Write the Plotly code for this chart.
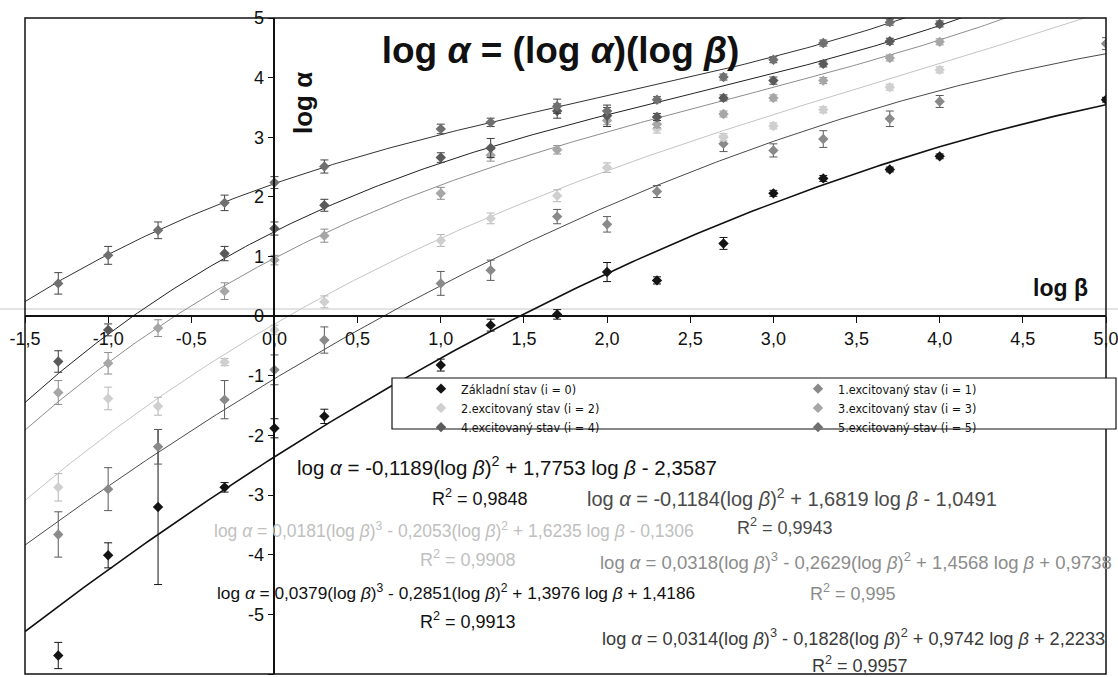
import numpy as np
import plotly.graph_objects as go

# ---------------- data ----------------
LOG_BETA = [-1.3, -1.0, -0.7, -0.3, 0.0, 0.3, 1.0, 1.3, 1.7, 2.0, 2.3, 2.7, 3.0, 3.3, 3.7, 4.0, 5.0]

SERIES_NAMES = [
    "Základní stav (i = 0)",
    "1.excitovaný stav (i = 1)",
    "2.excitovaný stav (i = 2)",
    "3.excitovaný stav (i = 3)",
    "4.excitovaný stav (i = 4)",
    "5.excitovaný stav (i = 5)",
]

Y0 = [-5.69, -4.01, -3.20, -2.87, -1.88, -1.68, -0.82, -0.15, 0.03, 0.74, 0.60, 1.22, 2.06, 2.31, 2.46, 2.68, 3.63]
E0 = [0.22, 0.21, 1.30, 0.08, 0.16, 0.12, 0.10, 0.10, 0.08, 0.16, 0.06, 0.10, 0.05, 0.05, 0.04, 0.04, 0.04]

Y1 = [-3.66, -2.90, -2.19, -1.40, -0.90, -0.40, 0.55, 0.77, 1.67, 1.54, 2.09, 2.89, 2.78, 2.97, 3.31, 3.60, 4.57]
E1 = [0.38, 0.36, 0.29, 0.32, 0.25, 0.22, 0.20, 0.17, 0.12, 0.13, 0.10, 0.13, 0.11, 0.14, 0.13, 0.10, 0.10]

Y2 = [-2.87, -1.38, -1.51, -0.77, -0.23, 0.24, 1.27, 1.64, 2.02, 2.49, 3.14, 3.00, 3.19, 3.46, 3.84, 4.13, None]
E2 = [0.23, 0.19, 0.15, 0.06, 0.08, 0.10, 0.10, 0.09, 0.10, 0.08, 0.07, 0.06, 0.05, 0.05, 0.05, 0.05, None]

Y3 = [-1.28, -0.79, -0.20, 0.42, 0.94, 1.35, 2.06, 2.70, 2.79, 3.28, 3.22, 3.39, 3.66, 3.95, 4.33, 4.60, None]
E3 = [0.20, 0.18, 0.14, 0.14, 0.08, 0.11, 0.10, 0.10, 0.07, 0.07, 0.06, 0.05, 0.05, 0.05, 0.05, 0.05, None]

Y4 = [-0.76, -0.23, None, 1.05, 1.47, 1.86, 2.66, 2.82, 3.44, 3.36, 3.34, 3.66, 3.95, 4.23, 4.61, 4.90, None]
E4 = [0.18, 0.10, None, 0.12, 0.11, 0.10, 0.08, 0.16, 0.12, 0.18, 0.06, 0.05, 0.06, 0.05, 0.05, 0.05, None]

Y5 = [0.55, 1.02, 1.44, 1.90, 2.24, 2.51, 3.14, 3.25, 3.52, 3.44, 3.63, 4.01, 4.30, 4.58, 4.93, None, None]
E5 = [0.18, 0.15, 0.14, 0.13, 0.10, 0.11, 0.08, 0.07, 0.12, 0.06, 0.05, 0.05, 0.05, 0.05, 0.05, None, None]

# trendline coefficients as printed on the chart (cubic, square, linear, constant)
COEF0 = [0.0, -0.1189, 1.7753, -2.3587]
COEF1 = [0.0, -0.1184, 1.6819, -1.0491]
COEF2 = [0.0181, -0.2053, 1.6235, -0.1306]
COEF3 = [0.0318, -0.2629, 1.4568, 0.9738]
COEF4 = [0.0379, -0.2851, 1.3976, 1.4186]
COEF5 = [0.0314, -0.1828, 0.9742, 2.2233]

EQ0 = "log <i>α</i> = -0,1189(log <i>β</i>)<sup>2</sup> + 1,7753 log <i>β</i> - 2,3587"
EQ1 = "log <i>α</i> = -0,1184(log <i>β</i>)<sup>2</sup> + 1,6819 log <i>β</i> - 1,0491"
EQ2 = "log <i>α</i> = 0,0181(log <i>β</i>)<sup>3</sup> - 0,2053(log <i>β</i>)<sup>2</sup> + 1,6235 log <i>β</i> - 0,1306"
EQ3 = "log <i>α</i> = 0,0318(log <i>β</i>)<sup>3</sup> - 0,2629(log <i>β</i>)<sup>2</sup> + 1,4568 log <i>β</i> + 0,9738"
EQ4 = "log <i>α</i> = 0,0379(log <i>β</i>)<sup>3</sup> - 0,2851(log <i>β</i>)<sup>2</sup> + 1,3976 log <i>β</i> + 1,4186"
EQ5 = "log <i>α</i> = 0,0314(log <i>β</i>)<sup>3</sup> - 0,1828(log <i>β</i>)<sup>2</sup> + 0,9742 log <i>β</i> + 2,2233"
R2_TEXT = ["R<sup>2</sup> = 0,9848", "R<sup>2</sup> = 0,9943", "R<sup>2</sup> = 0,9908",
           "R<sup>2</sup> = 0,995", "R<sup>2</sup> = 0,9913", "R<sup>2</sup> = 0,9957"]

X_RANGE = [-1.5, 5.0]
Y_RANGE = [-6, 5]
X_TICKS = [-1.5, -1.0, -0.5, 0.0, 0.5, 1.0, 1.5, 2.0, 2.5, 3.0, 3.5, 4.0, 4.5, 5.0]
X_TICKTEXT = ["-1,5", "-1,0", "-0,5", "0,0", "0,5", "1,0", "1,5", "2,0", "2,5", "3,0", "3,5", "4,0", "4,5", "5,0"]
Y_TICKS = [5, 4, 3, 2, 1, 0, -1, -2, -3, -4, -5, -6]
Y_TICKTEXT = ["5", "4", "3", "2", "1", "0", "-1", "-2", "-3", "-4", "-5", "-6"]

# ---------------- style ----------------
W, H = 1118, 677
PL, PR, PT, PB = 25, 1106, 18, 674
FONT = "Liberation Sans, Arial, sans-serif"
NARROW = "Liberation Sans Narrow, DejaVu Sans Condensed, Arial Narrow, sans-serif"

MARKER_COLORS = ["#141414", "#8a8a8a", "#cfcfcf", "#a6a6a6", "#5a5a5a", "#707070"]
ERR_COLORS = ["#141414", "#5a5a5a", "#b5b5b5", "#8c8c8c", "#3c3c3c", "#444444"]
LINE_COLORS = ["#111111", "#4a4a4a", "#c4c4c4", "#8e8e8e", "#222222", "#333333"]
LINE_WIDTHS = [1.6, 1, 1, 1, 1, 1]
TEXT_COLORS = ["#111111", "#4a4a4a", "#c0c0c0", "#8c8c8c", "#111111", "#3a3a3a"]
LEGEND_OF = ["legend", "legend2", "legend", "legend2", "legend", "legend2"]


def fx(p):
    return (p - PL) / (PR - PL)


def fy(p):
    return (PB - p) / (PB - PT)


ys = [Y0, Y1, Y2, Y3, Y4, Y5]
es = [E0, E1, E2, E3, E4, E5]
coefs = [COEF0, COEF1, COEF2, COEF3, COEF4, COEF5]

fig = go.Figure()

grid = np.linspace(X_RANGE[0], X_RANGE[1], 261)
for k in range(6):
    fig.add_trace(go.Scatter(
        x=grid, y=np.polyval(coefs[k], grid), mode="lines",
        line=dict(color=LINE_COLORS[k], width=LINE_WIDTHS[k]),
        showlegend=False, hoverinfo="skip"))

for k in range(6):
    fig.add_trace(go.Scatter(
        x=LOG_BETA, y=ys[k], mode="markers", name=SERIES_NAMES[k],
        legend=LEGEND_OF[k],
        marker=dict(symbol="diamond", size=8, color=MARKER_COLORS[k],
                    line=dict(width=0)),
        error_y=dict(type="data", array=es[k], visible=True,
                     color=ERR_COLORS[k], thickness=1, width=4)))

axis_common = dict(showgrid=False, zeroline=False, showline=True, linecolor="#111",
                   linewidth=1.5, ticks="outside", ticklen=6, tickcolor="#111",
                   tickwidth=1, automargin=False,
                   tickfont=dict(family=FONT, size=18, color="#111"))

fig.update_xaxes(range=X_RANGE, tickmode="array", tickvals=X_TICKS, ticktext=X_TICKTEXT,
                 anchor="free", ticklabeloverflow="allow",
                 position=(0 - Y_RANGE[0]) / (Y_RANGE[1] - Y_RANGE[0]),
                 **axis_common)
fig.update_yaxes(range=Y_RANGE, tickmode="array", tickvals=Y_TICKS, ticktext=Y_TICKTEXT,
                 anchor="free",
                 position=(0 - X_RANGE[0]) / (X_RANGE[1] - X_RANGE[0]),
                 **axis_common)

shapes = [
    # scanned faint horizontal line
    dict(type="line", xref="paper", yref="paper", x0=fx(0), x1=fx(W), y0=fy(309), y1=fy(309),
         line=dict(color="#c8c8c8", width=1), layer="below"),
    # plot frame
    dict(type="rect", xref="paper", yref="paper", x0=0, x1=1, y0=0, y1=1,
         line=dict(color="#111", width=1.5), layer="above"),
    # legend frame
    dict(type="rect", xref="paper", yref="paper", x0=fx(392), x1=fx(1116), y0=fy(378), y1=fy(429),
         line=dict(color="#111", width=1.2), fillcolor="white", layer="above"),
]

ann = []


def add_text(text, x, cy, color, size=18, anchor="left", **kw):
    ann.append(dict(text=text, x=fx(x), y=fy(cy), xref="paper", yref="paper",
                    showarrow=False, xanchor=anchor, yanchor="middle",
                    font=dict(family=FONT, size=size, color=color), **kw))


add_text(EQ0, 295, 466, TEXT_COLORS[0], size=20.5)
add_text(R2_TEXT[0], 430, 497, TEXT_COLORS[0])
add_text(EQ1, 585, 497, TEXT_COLORS[1], size=20)
add_text(R2_TEXT[1], 735, 526, TEXT_COLORS[1])
add_text(EQ2, 212, 530, TEXT_COLORS[2], size=17.5)
add_text(R2_TEXT[2], 418, 558, TEXT_COLORS[2])
add_text(EQ3, 598, 561, TEXT_COLORS[3], size=18.5)
add_text(R2_TEXT[3], 808, 592, TEXT_COLORS[3])
add_text(EQ4, 215, 592, TEXT_COLORS[4], size=17.3)
add_text(R2_TEXT[4], 418, 620, TEXT_COLORS[4])
add_text(EQ5, 600, 637, TEXT_COLORS[5], size=18.2)
add_text(R2_TEXT[5], 810, 664, TEXT_COLORS[5])

add_text("<b>log α</b>", 303, 103, "#111", size=26, anchor="center", textangle=-90)
add_text("<b>log β</b>", 1060, 288, "#111", size=23, anchor="center")

leg_common = dict(orientation="v", xanchor="left", yanchor="top",
                  bgcolor="rgba(0,0,0,0)", borderwidth=0,
                  font=dict(family=NARROW, size=12.5, color="#111"),
                  itemwidth=30, tracegroupgap=0)

fig.update_layout(
    width=W, height=H,
    margin=dict(l=PL, r=W - PR, t=PT, b=H - PB, autoexpand=False),
    paper_bgcolor="white", plot_bgcolor="white",
    title=dict(text="<b>log <i>α</i> = (log <i>α</i>)(log <i>β</i>)</b>",
               x=fx(567), xanchor="center", y=1 - 50 / H, yanchor="middle",
               font=dict(family=FONT, size=37, color="#111")),
    shapes=shapes, annotations=ann,
    showlegend=True,
    legend=dict(x=fx(421), y=fy(374), **leg_common),
    legend2=dict(x=fx(798), y=fy(374), **leg_common),
)

fig.write_html("out.html")
